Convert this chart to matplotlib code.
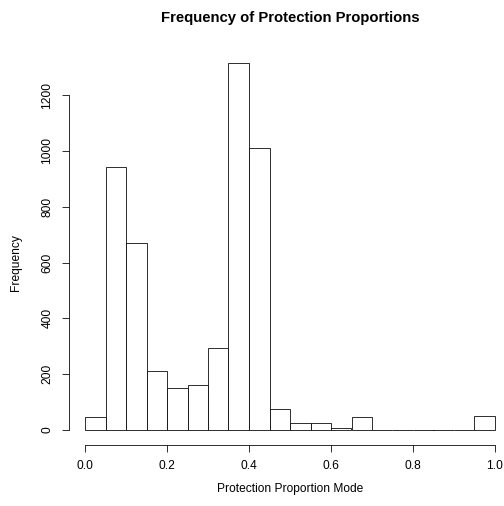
import matplotlib
matplotlib.use("Agg")
import matplotlib.pyplot as plt
import numpy as np

# histogram bins (width 0.05) and counts
bin_edges = [round(0.05 * i, 2) for i in range(21)]
counts = [48, 941, 670, 212, 150, 162, 295, 1313, 1011, 74,
          26, 24, 8, 48, 0, 0, 0, 0, 0, 52]
x_ticks = [0.0, 0.2, 0.4, 0.6, 0.8, 1.0]
y_ticks = [0, 200, 400, 600, 800, 1000, 1200]

plt.rcParams['font.family'] = ['Liberation Sans', 'DejaVu Sans']

W, H = 504, 506
fig = plt.figure(figsize=(W / 72, H / 72), dpi=72)

# plot region in pixels (R-style margins, right edge runs past the image)
left_px, right_px, top_px, bot_px = 68.6, 504, 48.8, 444.7
ax = fig.add_axes([left_px / W, 1 - bot_px / H,
                   (right_px - left_px) / W, (bot_px - top_px) / H])

lefts = bin_edges[:-1]
ax.bar(lefts, counts, width=0.05, align='edge',
       facecolor='white', edgecolor='black', linewidth=0.8)

ax.set_xlim(-0.04, (right_px - 85) / 410)
ax.set_ylim(-52.5, 1365.5)

for s in ['top', 'right']:
    ax.spines[s].set_visible(False)
ax.spines['left'].set_bounds(0, 1200)
ax.spines['bottom'].set_bounds(0, 1)
ax.spines['left'].set_linewidth(0.8)
ax.spines['bottom'].set_linewidth(0.8)

ax.set_xticks(x_ticks)
ax.set_xticklabels([f"{t:.1f}" for t in x_ticks])
ax.set_yticks(y_ticks)
ax.set_yticklabels([str(t) for t in y_ticks], rotation=90, va='center')
ax.tick_params(axis='both', length=7, width=0.8, labelsize=12, direction='out')
ax.tick_params(axis='x', pad=8)
ax.tick_params(axis='y', pad=8)

# titles centred on the full R plot region (x = 290 px)
cx = 290 / W
fig.text(cx, 1 - 18 / H, 'Frequency of Protection Proportions',
         ha='center', va='center', fontsize=14.9, fontweight='bold')
fig.text(cx, 1 - 489 / H, 'Protection Proportion Mode',
         ha='center', va='center', fontsize=12)
fig.text(16 / W, 1 - ((430 + 95) / 2) / H, 'Frequency',
         ha='center', va='center', rotation=90, fontsize=12)

fig.savefig('out.png', dpi=72)
